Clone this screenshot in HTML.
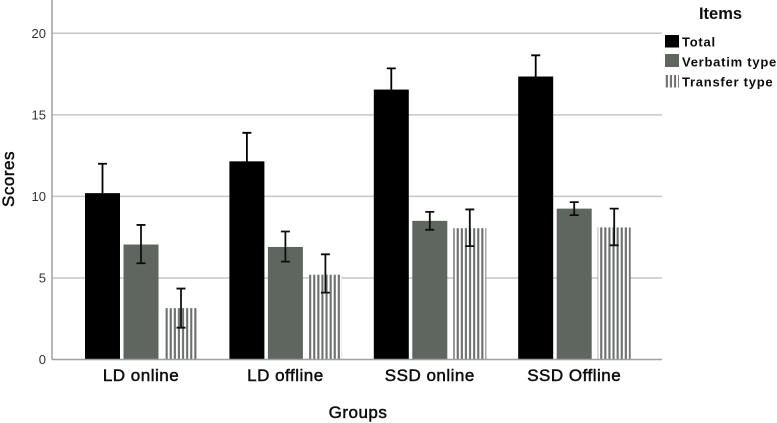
<!DOCTYPE html>
<html>
<head>
<meta charset="utf-8">
<title>Scores by group</title>
<style>
html,body{margin:0;padding:0;background:#fff;width:777px;height:423px;overflow:hidden}
svg{display:block;font-family:"Liberation Sans",sans-serif}
</style>
</head>
<body>
<svg id="chart" width="777" height="423" viewBox="0 0 777 423" xmlns="http://www.w3.org/2000/svg">
<defs>
<pattern id="stripes" patternUnits="userSpaceOnUse" width="4.1" height="4" x="165">
<rect x="0" y="0" width="4.1" height="4" fill="#fff"/>
<rect x="0.6" y="0" width="2.1" height="4" fill="#6c6f6d"/>
</pattern>
<filter id="soft" x="-2%" y="-2%" width="104%" height="104%"><feGaussianBlur stdDeviation="0.35"/></filter>
</defs>
<g id="plot" filter="url(#soft)"></g>
<g id="labels" filter="url(#soft)">
<text transform="translate(14,179) rotate(-90)" text-anchor="middle" font-size="17" letter-spacing="0.5" stroke="#111" stroke-width="0.5" fill="#111">Scores</text>
<text x="358" y="418" text-anchor="middle" font-size="17" letter-spacing="0.5" stroke="#111" stroke-width="0.5" fill="#111">Groups</text>
<text x="720.5" y="19" text-anchor="middle" font-size="16.5" font-weight="bold" fill="#111">Items</text>
<rect x="665" y="35" width="14" height="12.5" fill="#000"/>
<text x="682" y="46.5" font-size="13" font-weight="bold" letter-spacing="0.75" fill="#111">Total</text>
<rect x="665" y="54" width="14" height="13" fill="#5e6660"/>
<text x="682" y="66.5" font-size="13" font-weight="bold" letter-spacing="0.75" fill="#111">Verbatim type</text>
<rect x="665" y="75" width="14" height="12.5" fill="url(#stripes)"/>
<text x="682" y="86.5" font-size="13" font-weight="bold" letter-spacing="0.75" fill="#111">Transfer type</text>
</g>
</svg>
<script>
const categories = ["LD online", "LD offline", "SSD online", "SSD Offline"];
const seriesNames = ["Total", "Verbatim type", "Transfer type"];
const totalValues = [10.2, 12.15, 16.55, 17.35];
const verbatimValues = [7.05, 6.9, 8.5, 9.25];
const transferValues = [3.15, 5.2, 8.05, 8.1];
const totalHigh = [12.0, 13.9, 17.85, 18.65];
const totalLow = [8.4, 10.4, 15.25, 16.05];
const verbatimHigh = [8.25, 7.85, 9.05, 9.65];
const verbatimLow = [5.9, 6.0, 7.95, 8.85];
const transferHigh = [4.35, 6.45, 9.2, 9.25];
const transferLow = [1.95, 4.1, 6.95, 7.0];
const yTicks = [0, 5, 10, 15, 20];

const NS = "http://www.w3.org/2000/svg";
const plot = document.getElementById("plot");
const labels = document.getElementById("labels");
const y = v => 359.5 - v * 16.31;
const x = i => 141 + i * 144.4;

function make(tag, attrs, parent) {
  const el = document.createElementNS(NS, tag);
  for (const k in attrs) el.setAttribute(k, attrs[k]);
  parent.appendChild(el);
  return el;
}

yTicks.forEach(t => {
  if (t > 0) {
    const g = make("line", {x1: 52, x2: 662, y1: y(t), y2: y(t), stroke: "#c6c6c6", "stroke-width": 1.5}, plot);
    
    
  }
  const l = make("text", {x: 46, y: y(t) + 4.5, "text-anchor": "end", "font-size": 13, fill: "#333"}, labels);
  
  
  l.textContent = t;
});

const seriesValues = [totalValues, verbatimValues, transferValues];
const seriesHigh = [totalHigh, verbatimHigh, transferHigh];
const seriesLow = [totalLow, verbatimLow, transferLow];
const seriesFill = ["#000", "#5e6660", "url(#stripes)"];
const seriesErrorColor = ["#000", "#111", "#111"];
const seriesOffset = [-38.5, 0, 40];
const seriesWidth = [35, 35, 33];

categories.forEach((c, i) => {
  seriesValues.forEach((vals, s) => {
    const cx = x(i) + seriesOffset[s];
    const w = seriesWidth[s];
    const bar = make("rect", {x: cx - w / 2, y: y(vals[i]), width: w, height: y(0) - y(vals[i]), fill: seriesFill[s]}, plot);
    
    
    const hi = y(seriesHigh[s][i]), lo = y(seriesLow[s][i]);
    const eb = make("path", {d: `M${cx - 4.5} ${hi}H${cx + 4.5}M${cx} ${hi}V${lo}M${cx - 4.5} ${lo}H${cx + 4.5}`, fill: "none", stroke: seriesErrorColor[s], "stroke-width": 1.8}, plot);
    
    
  });
  const t = make("text", {x: x(i), y: 381, "text-anchor": "middle", "font-size": 17, "letter-spacing": 0.5, stroke: "#111", "stroke-width": 0.5, fill: "#111"}, labels);
  
  
  t.textContent = c;
});

const yAxis = make("line", {x1: 52, x2: 52, y1: 0, y2: y(0), stroke: "#a0a0a0", "stroke-width": 1.5}, plot);


const xAxis = make("line", {x1: 52, x2: 662, y1: y(0), y2: y(0), stroke: "#a0a0a0", "stroke-width": 1.5}, plot);


</script>
</body>
</html>
